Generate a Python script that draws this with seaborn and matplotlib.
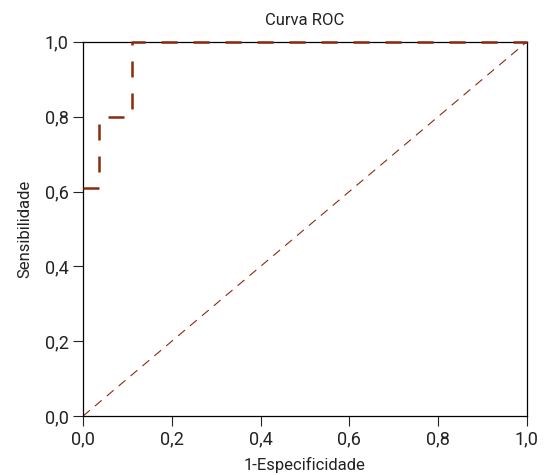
import matplotlib
matplotlib.use("Agg")
import matplotlib.pyplot as plt
import seaborn as sns
import pandas as pd

# ROC points
fpr = [0.0, 0.037, 0.037, 0.111, 0.111, 1.0]
tpr = [0.61, 0.61, 0.80, 0.80, 1.0, 1.0]
ref_x = [0.0, 1.0]
ref_y = [0.0, 1.0]
ticks = [0.0, 0.2, 0.4, 0.6, 0.8, 1.0]
tick_labels = ["0,0", "0,2", "0,4", "0,6", "0,8", "1,0"]

sns.set_style("ticks")
plt.rcParams['font.family'] = ['Roboto', 'DejaVu Sans']

roc_df = pd.DataFrame({"fpr": fpr, "tpr": tpr})
ref_df = pd.DataFrame({"x": ref_x, "y": ref_y})

fig, ax = plt.subplots(figsize=(5.46, 4.75), dpi=100)
fig.subplots_adjust(left=0.152, right=0.965, top=0.912, bottom=0.124)

red = "#8b2a0e"
sns.lineplot(data=ref_df, x="x", y="y", ax=ax, color=red, lw=0.8,
             estimator=None, sort=False)
ax.lines[-1].set_dashes((8, 6))
sns.lineplot(data=roc_df, x="fpr", y="tpr", ax=ax, color=red, lw=1.8,
             estimator=None, sort=False)
roc_line = ax.lines[-1]
roc_line.set_dashes((6.4, 6.4))
# keep the curve on top of the spines, like the original
roc_line.set_zorder(3)
roc_line.set_clip_on(False)

ax.set_xlim(0, 1)
ax.set_ylim(0, 1)
ax.set_xticks(ticks)
ax.set_xticklabels(tick_labels)
ax.set_yticks(ticks)
ax.set_yticklabels(tick_labels)
ax.tick_params(length=7, width=0.8, labelsize=13, colors="#222222")
for s in ax.spines.values():
    s.set_color("black")
    s.set_linewidth(0.9)

ax.set_title("Curva ROC", fontsize=12, color="#222222", pad=12)
ax.set_xlabel("1-Especificidade", fontsize=12, color="#222222", labelpad=6)
ax.set_ylabel("Sensibilidade", fontsize=12, color="#222222", labelpad=9)

fig.savefig("out.png", dpi=100)
